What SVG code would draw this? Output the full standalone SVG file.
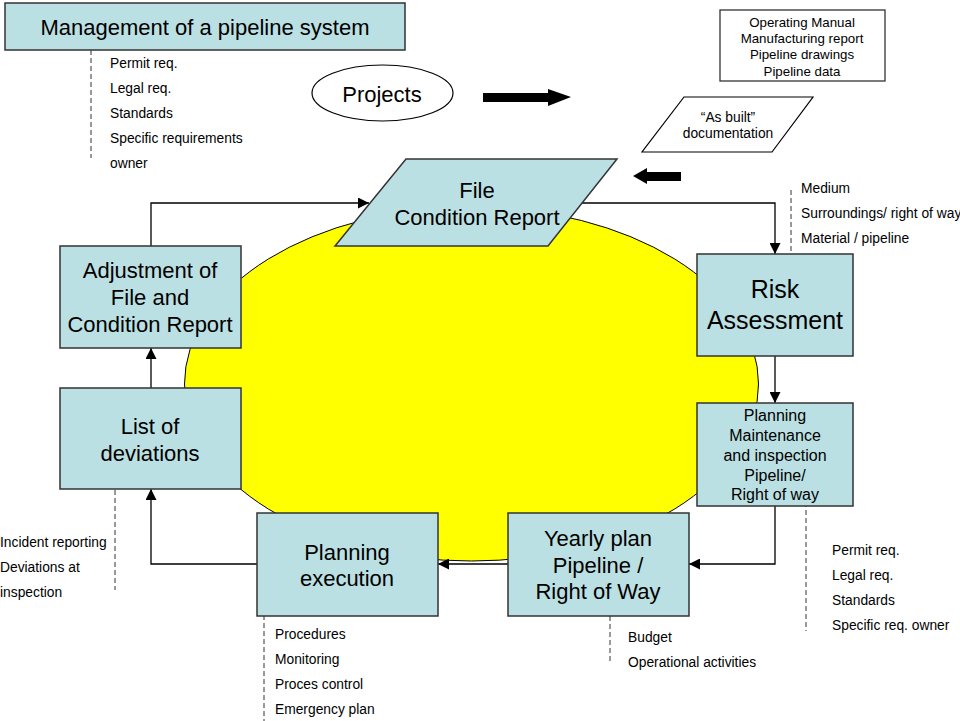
<svg xmlns="http://www.w3.org/2000/svg" width="960" height="721" viewBox="0 0 960 721">
<style>
text{font-family:"Liberation Sans",Arial,sans-serif;fill:#000}
.box{fill:#bbe0e3;stroke:#333;stroke-width:1.5}
.big{font-size:22px;text-anchor:middle}
.sm{font-size:13.8px}
.md{font-size:13.3px;text-anchor:middle}
.wire{fill:none;stroke:#000;stroke-width:1.3;marker-end:url(#ah)}
.dash{fill:none;stroke:#333;stroke-width:1;stroke-dasharray:5,3}
</style>
<defs>
<marker id="ah" markerUnits="userSpaceOnUse" markerWidth="11" markerHeight="11" refX="11" refY="5.5" orient="auto">
<path d="M0,0 L11,5.5 L0,11 Z" fill="#000"/>
</marker>
</defs>
<rect width="960" height="721" fill="#fff"/>
<ellipse id="cycle" cx="471.5" cy="384" rx="287" ry="177" fill="#ffff00" stroke="#000" stroke-width="1"/>

<g id="connectors">
<path class="wire" d="M151,246 V203 H369"/>
<path class="wire" d="M582,203 H775 V254"/>
<path class="wire" d="M775,356 V403"/>
<path class="wire" d="M775,506 V564 H689"/>
<path class="wire" d="M508,564 H438"/>
<path class="wire" d="M257,564 H151 V489"/>
<path class="wire" d="M151,388 V348"/>
<polygon points="483,93 548,93 548,89 571,97 548,106 548,102 483,102" fill="#000"/>
<polygon points="681,172 647,172 647,168 633,176 647,184 647,181 681,181" fill="#000"/>
<path class="dash" d="M91,50 V158"/>
<path class="dash" d="M791,190 V278"/>
<path class="dash" d="M806,502 V631"/>
<path class="dash" d="M610,616 V662"/>
<path class="dash" d="M264,607 V721"/>
<path class="dash" d="M115,482 V590"/>
</g>

<g id="title">
<rect class="box" x="5" y="3" width="400" height="47"/>
<text class="big" x="205" y="35">Management of a pipeline system</text>
</g>
<g id="title-notes" class="sm">
<text x="110" y="68">Permit req.</text>
<text x="110" y="93">Legal req.</text>
<text x="110" y="118">Standards</text>
<text x="110" y="143">Specific requirements</text>
<text x="110" y="168">owner</text>
</g>

<g id="projects">
<ellipse cx="382.5" cy="93" rx="70.5" ry="28" fill="#fff" stroke="#000" stroke-width="1.2"/>
<text class="big" x="382" y="102">Projects</text>
</g>

<g id="manual">
<rect x="720" y="10" width="165" height="71" fill="#fff" stroke="#333" stroke-width="1.3"/>
<text class="md" x="802" y="27">Operating Manual</text>
<text class="md" x="802" y="43">Manufacturing report</text>
<text class="md" x="802" y="59">Pipeline drawings</text>
<text class="md" x="802" y="76">Pipeline data</text>
</g>

<g id="asbuilt">
<polygon points="684,97 813,97 772,152 642,152" fill="#fff" stroke="#000" stroke-width="1.2"/>
<text class="md" style="font-size:13.8px" x="728" y="122">“As built”</text>
<text class="md" style="font-size:13.8px" x="728" y="138">documentation</text>
</g>

<g id="file">
<polygon class="box" points="406,159 617,159 548,246 335,246"/>
<text class="big" x="477" y="198">File</text>
<text class="big" x="477" y="225">Condition Report</text>
</g>

<g id="adjustment">
<rect class="box" x="60" y="246" width="181" height="102"/>
<text class="big" x="150" y="278">Adjustment of</text>
<text class="big" x="150" y="305">File and</text>
<text class="big" x="150" y="332">Condition Report</text>
</g>

<g id="risk">
<rect class="box" x="697" y="254" width="156" height="102"/>
<text class="big" x="775" y="298" style="font-size:25px">Risk</text>
<text class="big" x="775" y="329" style="font-size:25px">Assessment</text>
</g>
<g id="risk-notes" class="sm">
<text x="801" y="193">Medium</text>
<text x="801" y="218">Surroundings/ right of way</text>
<text x="801" y="243">Material / pipeline</text>
</g>

<g id="planning-maintenance">
<rect class="box" x="697" y="403" width="156" height="103"/>
<text class="big" style="font-size:16px" x="775" y="421">Planning</text>
<text class="big" style="font-size:16px" x="775" y="441">Maintenance</text>
<text class="big" style="font-size:16px" x="775" y="461">and inspection</text>
<text class="big" style="font-size:16px" x="775" y="481">Pipeline/</text>
<text class="big" style="font-size:16px" x="775" y="500">Right of way</text>
</g>
<g id="pm-notes" class="sm">
<text x="832" y="555">Permit req.</text>
<text x="832" y="580">Legal req.</text>
<text x="832" y="605">Standards</text>
<text x="832" y="630">Specific req. owner</text>
</g>

<g id="yearly">
<rect class="box" x="508" y="513" width="181" height="103"/>
<text class="big" x="598" y="546">Yearly plan</text>
<text class="big" x="598" y="573">Pipeline /</text>
<text class="big" x="598" y="599">Right of Way</text>
</g>
<g id="yearly-notes" class="sm">
<text x="628" y="642">Budget</text>
<text x="628" y="667">Operational activities</text>
</g>

<g id="execution">
<rect class="box" x="257" y="513" width="181" height="103"/>
<text class="big" x="347" y="560">Planning</text>
<text class="big" x="347" y="586">execution</text>
</g>
<g id="execution-notes" class="sm">
<text x="275" y="639">Procedures</text>
<text x="275" y="664">Monitoring</text>
<text x="275" y="689">Proces control</text>
<text x="275" y="714">Emergency plan</text>
</g>

<g id="deviations">
<rect class="box" x="60" y="388" width="181" height="101"/>
<text class="big" x="150" y="434">List of</text>
<text class="big" x="150" y="461">deviations</text>
</g>
<g id="deviation-notes" class="sm">
<text x="0" y="547">Incident reporting</text>
<text x="0" y="572">Deviations at</text>
<text x="0" y="597">inspection</text>
</g>
</svg>
